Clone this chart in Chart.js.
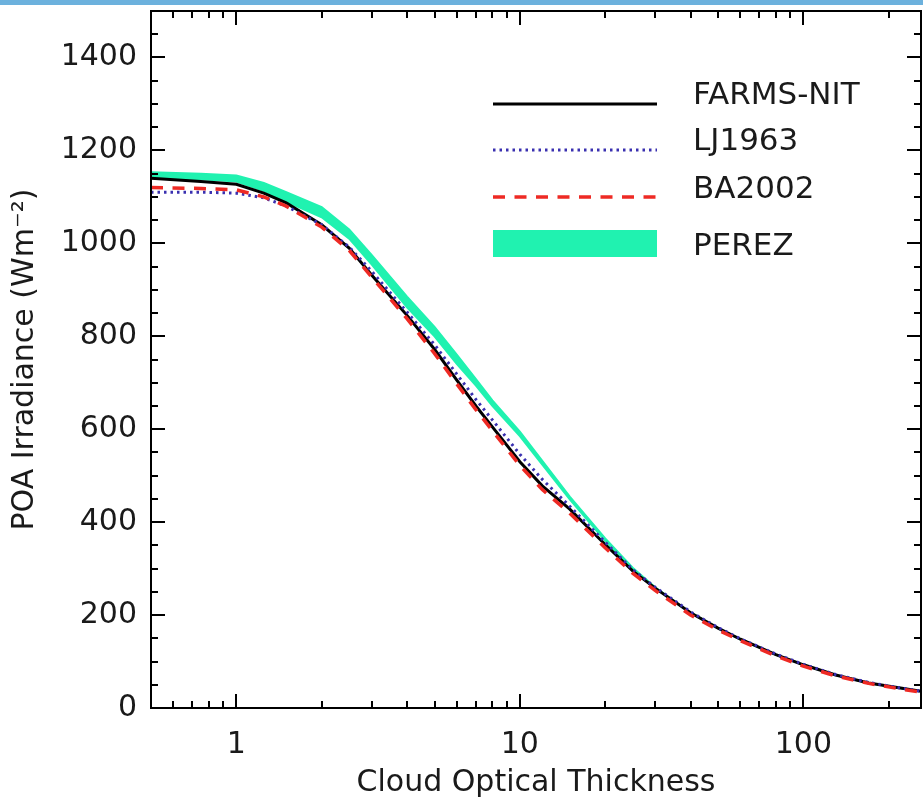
<!DOCTYPE html>
<html>
<head>
<meta charset="utf-8">
<script src="https://cdn.jsdelivr.net/npm/chart.js@4"></script>
<style>
  body { margin: 0; background: #fff; }
  #wrap { position: relative; width: 923px; height: 801px; }
  #strip { position: absolute; left: 0; top: 0; width: 923px; height: 5px; background: #6cb1dd; }
</style>
</head>
<body>
<div id="wrap">
  <canvas id="poa-chart"></canvas>
  <div id="strip"></div>
</div>
<script>
"use strict";

// cloud optical thickness sample points
const tau = [0.5, 0.75, 1, 1.25, 1.5, 2, 2.5, 3, 4, 5, 6, 7, 8, 10, 12, 15, 20, 25, 30, 40, 50, 60, 80, 100, 130, 170, 220, 260];

const farmsNit = [1140, 1133, 1127, 1108, 1087, 1040, 990, 932, 845, 772, 705, 650, 605, 530, 478, 428, 352, 295, 258, 205, 172, 148, 115, 93, 71, 54, 43, 36];
const lj1963 = [1110, 1110, 1108, 1098, 1080, 1040, 992, 940, 852, 782, 718, 664, 620, 546, 492, 434, 357, 298, 260, 207, 173, 149, 116, 94, 72, 55, 43, 36];
const ba2002 = [1120, 1118, 1115, 1100, 1080, 1035, 985, 928, 838, 763, 697, 642, 597, 522, 470, 419, 345, 290, 253, 200, 168, 145, 112, 90, 69, 53, 41, 34];
const perezHigh = [1153, 1150, 1146, 1130, 1110, 1078, 1030, 975, 885, 820, 760, 708, 662, 595, 532, 455, 365, 302, 260, 205, 172, 148, 115, 93, 71, 54, 43, 36];
const perezLow = [1140, 1138, 1133, 1113, 1090, 1056, 1010, 955, 862, 800, 740, 694, 650, 585, 524, 449, 360, 298, 258, 205, 172, 148, 115, 93, 71, 54, 43, 36];

const xLabelTicks = [1, 10, 100];
const yLabelTicks = [0, 200, 400, 600, 800, 1000, 1200, 1400];

const legendNames = ["FARMS-NIT", "LJ1963", "BA2002", "PEREZ"];

const FONT = "'DejaVu Sans', sans-serif";
const GREEN = "#20f2b0";
const BLUE = "#3a30b0";
const RED = "#ee2a24";

const pts = (vals) => tau.map((t, i) => ({ x: t, y: vals[i] }));

// inward ticks on all four sides plus the box
const frameTicks = {
  id: "frameTicks",
  afterDatasetsDraw(chart) {
    const { ctx, chartArea: a, scales } = chart;
    const x = scales.x;
    const y = scales.y;
    ctx.save();
    ctx.strokeStyle = "#000";
    ctx.lineWidth = 2;
    ctx.beginPath();
    for (const d of [0.1, 1, 10, 100]) {
      for (let k = 1; k <= 9; k++) {
        const v = k * d;
        if (v < x.min || v > x.max) continue;
        const px = Math.round(x.getPixelForValue(v));
        const len = k === 1 ? 14 : 7;
        ctx.moveTo(px, a.bottom);
        ctx.lineTo(px, a.bottom - len);
        ctx.moveTo(px, a.top);
        ctx.lineTo(px, a.top + len);
      }
    }
    for (let v = 50; v < 1500; v += 50) {
      const py = Math.round(y.getPixelForValue(v));
      const len = v % 200 === 0 ? 14 : 7;
      ctx.moveTo(a.left, py);
      ctx.lineTo(a.left + len, py);
      ctx.moveTo(a.right, py);
      ctx.lineTo(a.right - len, py);
    }
    ctx.stroke();
    ctx.strokeRect(a.left, a.top, a.right - a.left, a.bottom - a.top);
    ctx.restore();
  },
};

const plotLegend = {
  id: "plotLegend",
  afterDraw(chart) {
    const { ctx } = chart;
    const x0 = 493;
    const x1 = 657;
    ctx.save();
    ctx.font = "31px " + FONT;
    ctx.fillStyle = "#1a1a1a";
    ctx.textBaseline = "alphabetic";
    const textBase = [104, 150, 198, 255];
    legendNames.forEach((name, i) => ctx.fillText(name, 693, textBase[i]));

    ctx.lineCap = "butt";
    ctx.strokeStyle = "#000";
    ctx.lineWidth = 3;
    ctx.beginPath(); ctx.moveTo(x0, 104); ctx.lineTo(x1, 104); ctx.stroke();

    ctx.strokeStyle = BLUE;
    ctx.lineWidth = 3;
    ctx.setLineDash([2.5, 4]);
    ctx.beginPath(); ctx.moveTo(x0, 150); ctx.lineTo(x1, 150); ctx.stroke();

    ctx.strokeStyle = RED;
    ctx.lineWidth = 3.5;
    ctx.setLineDash([12, 9.5]);
    ctx.beginPath(); ctx.moveTo(x0, 197); ctx.lineTo(x1, 197); ctx.stroke();
    ctx.setLineDash([]);

    ctx.fillStyle = GREEN;
    ctx.fillRect(x0, 230, x1 - x0, 27);
    ctx.restore();
  },
};

new Chart(document.getElementById("poa-chart"), {
  type: "line",
  data: {
    datasets: [
      { label: "BA2002", data: pts(ba2002), borderColor: RED, borderWidth: 3.5, borderDash: [12, 9.5], order: 0 },
      { label: "LJ1963", data: pts(lj1963), borderColor: BLUE, borderWidth: 3, borderDash: [2.5, 4], order: 1 },
      { label: "FARMS-NIT", data: pts(farmsNit), borderColor: "#000", borderWidth: 3, order: 2 },
      { label: "PEREZ", data: pts(perezHigh), borderColor: GREEN, borderWidth: 2, fill: false, order: 3 },
      { label: "PEREZ low", data: pts(perezLow), borderColor: GREEN, borderWidth: 2, backgroundColor: GREEN, fill: "-1", order: 4 },
    ],
  },
  options: {
    responsive: true,
    maintainAspectRatio: false,
    animation: false,
    layout: { padding: { top: 11, right: 2, left: 0, bottom: 0 } },
    elements: { point: { radius: 0 }, line: { tension: 0 } },
    plugins: { legend: { display: false }, tooltip: { enabled: false } },
    scales: {
      x: {
        type: "logarithmic",
        min: 0.5,
        max: 260,
        grid: { display: false },
        border: { display: false },
        afterBuildTicks: (s) => { s.ticks = xLabelTicks.map((v) => ({ value: v })); },
        afterFit: (s) => { s.height = 93; s.paddingLeft = 0; s.paddingRight = 0; },
        ticks: { color: "#1a1a1a", font: { family: FONT, size: 30 }, padding: 11, maxRotation: 0, callback: (v) => String(v) },
        title: { display: true, text: "Cloud Optical Thickness", color: "#1a1a1a", font: { family: FONT, size: 30 }, padding: { top: 0, bottom: 0 } },
      },
      y: {
        min: 0,
        max: 1500,
        grid: { display: false },
        border: { display: false },
        afterBuildTicks: (s) => { s.ticks = yLabelTicks.map((v) => ({ value: v })); },
        afterFit: (s) => { s.width = 151; s.paddingTop = 0; s.paddingBottom = 0; },
        ticks: { color: "#1a1a1a", font: { family: FONT, size: 30 }, padding: 6, callback: (v) => String(v) },
        title: { display: true, text: "POA Irradiance (Wm⁻²)", color: "#1a1a1a", font: { family: FONT, size: 30 }, padding: { top: 7, bottom: 0 } },
      },
    },
  },
  plugins: [frameTicks, plotLegend],
});
</script>
</body>
</html>
